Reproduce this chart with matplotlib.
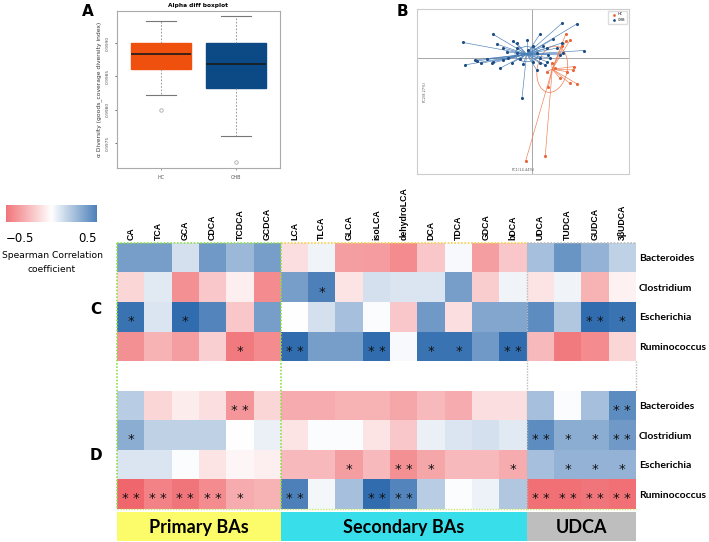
import numpy as np
import matplotlib
matplotlib.use("Agg")
import matplotlib.pyplot as plt
from matplotlib.colors import LinearSegmentedColormap, Normalize
from matplotlib.patches import Ellipse, Rectangle

W, H = 709, 542

# ----- data -----
bile_acids = ["CA", "TCA", "GCA", "CDCA", "TCDCA", "GCDCA",
              "LCA", "TLCA", "GLCA", "isoLCA", "dehydroLCA", "DCA", "TDCA", "GDCA", "bDCA",
              "UDCA", "TUDCA", "GUDCA", "3βUDCA"]
genera = ["Bacteroides", "Clostridium", "Escherichia", "Ruminococcus"]
groups = ["Primary BAs", "Secondary BAs", "UDCA"]
group_sizes = [6, 9, 4]

# panel C correlations
rho_c = [
    [0.38, 0.38, 0.12, 0.40, 0.28, 0.38, -0.12, 0.04, -0.35, -0.36, -0.42, -0.20, 0.02, -0.35, -0.20, 0.25, 0.42, 0.30, 0.18],
    [-0.15, 0.08, -0.40, -0.20, -0.06, -0.42, 0.38, 0.50, -0.10, 0.12, 0.10, 0.10, 0.38, -0.18, 0.04, -0.10, 0.04, -0.28, -0.05],
    [0.55, 0.10, 0.58, 0.48, -0.20, 0.38, 0.00, 0.12, 0.25, 0.01, -0.20, 0.40, -0.12, 0.35, 0.35, 0.45, 0.22, 0.58, 0.55],
    [-0.40, -0.28, -0.35, -0.17, -0.48, -0.42, 0.58, 0.38, 0.38, 0.58, 0.02, 0.55, 0.55, 0.40, 0.58, -0.25, -0.48, -0.42, -0.15],
]
sig_c = [
    [0, 0, 0, 0, 0, 0, 0, 0, 0, 0, 0, 0, 0, 0, 0, 0, 0, 0, 0],
    [0, 0, 0, 0, 0, 0, 0, 1, 0, 0, 0, 0, 0, 0, 0, 0, 0, 0, 0],
    [1, 0, 1, 0, 0, 0, 0, 0, 0, 0, 0, 0, 0, 0, 0, 0, 0, 2, 1],
    [0, 0, 0, 0, 1, 0, 2, 0, 0, 2, 0, 1, 1, 0, 2, 0, 0, 0, 0],
]
# panel D correlations
rho_d = [
    [0.20, -0.15, -0.07, -0.12, -0.38, -0.15, -0.30, -0.30, -0.28, -0.28, -0.32, -0.25, -0.30, -0.12, -0.12, 0.25, 0.01, 0.25, 0.45],
    [0.32, 0.18, 0.18, 0.18, 0.00, 0.06, -0.10, 0.01, 0.01, -0.10, -0.20, 0.06, 0.10, 0.12, 0.08, 0.45, 0.32, 0.32, 0.40],
    [0.10, 0.10, 0.01, -0.10, -0.03, -0.06, -0.25, -0.25, -0.35, -0.25, -0.40, -0.32, -0.25, -0.25, -0.30, 0.25, 0.30, 0.30, 0.30],
    [-0.55, -0.45, -0.50, -0.42, -0.30, -0.28, 0.50, 0.03, 0.25, 0.58, 0.48, 0.20, 0.01, 0.05, 0.22, -0.52, -0.52, -0.50, -0.52],
]
sig_d = [
    [0, 0, 0, 0, 2, 0, 0, 0, 0, 0, 0, 0, 0, 0, 0, 0, 0, 0, 2],
    [1, 0, 0, 0, 0, 0, 0, 0, 0, 0, 0, 0, 0, 0, 0, 2, 1, 1, 2],
    [0, 0, 0, 0, 0, 0, 0, 0, 1, 0, 2, 1, 0, 0, 1, 0, 1, 1, 1],
    [2, 2, 2, 2, 1, 0, 2, 0, 0, 2, 2, 0, 0, 0, 0, 2, 2, 2, 2],
]

# panel A boxplot stats
box_groups = ["HC", "CHB"]
box_whislo = [0.99822, 0.99761]
box_q1 = [0.99861, 0.99833]
box_med = [0.99884, 0.99868]
box_q3 = [0.99900, 0.99900]
box_whishi = [0.99933, 0.99940]
box_fliers = [[0.99800], [0.99722]]

# panel B ordination
chb_x = [0.90, 1.35, 0.23, -1.19, -2.09, -0.57, -1.07, -0.47, 0.63, 0.88, 0.45, 1.55, -0.77, 0.03, 0.33,
         0.73, 0.13, -1.37, -2.02, -1.67, -0.97, -0.62, -0.27, -0.31, 0.13, 0.43, 0.53, -1.17, -0.72, -0.47,
         0.23, 0.48, -0.87, 0.93, -0.47, -0.17, -1.72, -1.22, 0.03, -0.12, 0.23, 0.38, -0.37, -0.87, -1.54, 0.83]
chb_y = [1.05, 1.03, 0.72, 0.72, 0.47, 0.50, 0.42, 0.45, 0.57, 0.45, 0.30, 0.23, 0.19, 0.35, 0.35,
         0.30, 0.15, -0.03, -0.20, -0.08, -0.30, -0.15, -0.18, -1.18, -0.35, -0.10, 0.00, -0.10, 0.00, 0.15,
         0.00, 0.10, 0.30, 0.15, 0.30, 0.55, -0.05, -0.15, -0.10, 0.25, -0.15, -0.20, -0.03, -0.05, -0.15, 0.10]
hc_x = [1.01, 1.13, 1.00, 0.88, 1.25, 1.23, 1.13, 1.35, 0.83, 0.48, -0.20, 0.39, 0.68, 0.43, 1.03, 0.58]
hc_y = [0.73, 0.53, 0.50, 0.35, -0.25, -0.35, -0.75, -0.77, -0.60, -0.87, -3.07, -2.92, -0.30, -0.40, -0.40, -0.15]
chb_center = (-0.17, 0.12)
hc_center = (0.60, -0.33)


def px(x0, y0, x1, y1):
    return [x0 / W, 1 - y1 / H, (x1 - x0) / W, (y1 - y0) / H]


fig = plt.figure(figsize=(W / 100, H / 100), dpi=100)

# ----- A: boxplot -----
axA = fig.add_axes(px(117, 11, 280, 168))
stats = []
for i in range(2):
    stats.append(dict(label=box_groups[i], whislo=box_whislo[i], q1=box_q1[i], med=box_med[i],
                      q3=box_q3[i], whishi=box_whishi[i], fliers=box_fliers[i]))
bp = axA.bxp(stats, positions=[1, 2], widths=0.8, patch_artist=True,
             whiskerprops=dict(linestyle=(0, (2, 2)), color="#888888", linewidth=0.6),
             capprops=dict(color="#777777", linewidth=0.8),
             medianprops=dict(color="#1a1a1a", linewidth=1.2),
             flierprops=dict(marker="o", markersize=2.5, markerfacecolor="none",
                             markeredgecolor="#999999", markeredgewidth=0.5))
for patch, c in zip(bp["boxes"], ["#F0500E", "#0B4A85"]):
    patch.set_facecolor(c)
    patch.set_edgecolor(c)
axA.set_xlim(0.413, 2.587)
axA.set_ylim(0.99713, 0.99948)
axA.set_yticks([0.9975, 0.9980, 0.9985, 0.9990])
axA.set_yticklabels(["0.9975", "0.9980", "0.9985", "0.9990"], rotation=90, va="center", fontsize=3.2, color="#555555")
axA.tick_params(axis="x", labelsize=3.5, length=1.5, width=0.4, colors="#555555")
axA.tick_params(axis="y", length=1.5, width=0.4)
for s in axA.spines.values():
    s.set_color("#aaaaaa")
    s.set_linewidth(0.8)
axA.set_ylabel("α Diversity (goods_coverage diversity index)", fontsize=4.3, color="#333333", labelpad=3)
axA.set_title("Alpha diff boxplot", fontsize=4.2, fontweight="bold", pad=3)

# ----- B: PCoA -----
axB = fig.add_axes(px(417, 9, 629, 174))
axB.axhline(0, color="#999999", linewidth=0.6, zorder=0)
axB.axvline(0, color="#999999", linewidth=0.6, zorder=0)
for x, y in zip(chb_x, chb_y):
    axB.plot([chb_center[0], x], [chb_center[1], y], color="#4A7FB8", linewidth=0.45, zorder=2)
for x, y in zip(hc_x, hc_y):
    axB.plot([hc_center[0], x], [hc_center[1], y], color="#F07A50", linewidth=0.45, zorder=2)
axB.scatter(chb_x, chb_y, s=1.5, color="#1F4E85", zorder=3, label="CHB")
axB.scatter(hc_x, hc_y, s=1.5, color="#E8663A", zorder=3, label="HC")
axB.add_patch(Ellipse(hc_center, 0.9, 1.4, angle=-12, fill=False, edgecolor="#F07A50", linewidth=0.5))
axB.add_patch(Ellipse(chb_center, 0.7, 0.45, angle=0, fill=False, edgecolor="#4A7FB8", linewidth=0.5))
axB.set_xlim(-3.47, 2.91)
axB.set_ylim(-3.46, 1.47)
axB.set_xticks([])
axB.set_yticks([])
for s in axB.spines.values():
    s.set_color("#cccccc")
    s.set_linewidth(0.8)
axB.text(0.5, 0.015, "PC1(14.44%)", transform=axB.transAxes, fontsize=2.5, ha="center", va="bottom", color="#555555")
axB.text(0.035, 0.5, "PC2(8.27%)", transform=axB.transAxes, fontsize=2.5, ha="center", va="center",
         rotation=90, color="#555555")
h, l = axB.get_legend_handles_labels()
axB.legend(h[::-1], l[::-1], loc="upper right", fontsize=2.5, markerscale=0.8, handletextpad=0.3,
           borderpad=0.5, frameon=True, fancybox=False, edgecolor="#dddddd", framealpha=1)

# ----- heatmap C / D -----
cmap = LinearSegmentedColormap.from_list("rwb", ["#EE5A60", "#FFFFFF", "#2A68AC"])
norm = Normalize(vmin=-0.6, vmax=0.6)
n_col = len(bile_acids)
data = np.full((9, n_col), np.nan)
data[0:4] = np.array(rho_c)
data[5:9] = np.array(rho_d)
stars = np.zeros((9, n_col), dtype=int)
stars[0:4] = np.array(sig_c)
stars[5:9] = np.array(sig_d)

axH = fig.add_axes(px(117, 243, 636, 509))
axH.imshow(np.ma.masked_invalid(data), cmap=cmap, norm=norm, aspect="auto", interpolation="nearest")
for i in range(9):
    for j in range(n_col):
        if stars[i, j] > 0:
            axH.text(j, i + 0.16, "* *" if stars[i, j] == 2 else "*", ha="center", va="center",
                     fontsize=9.5, color="#111111")
axH.set_xlim(-0.5, n_col - 0.5)
axH.set_ylim(8.5, -0.5)
axH.xaxis.tick_top()
axH.set_xticks(range(n_col))
axH.set_xticklabels(bile_acids, rotation=90, fontsize=6.3, fontweight="bold", family="Liberation Sans")
axH.set_yticks([0, 1, 2, 3, 5, 6, 7, 8])
axH.yaxis.tick_right()
axH.set_yticklabels(genera + genera, fontsize=7.5, fontweight="bold", family="Lato")
axH.tick_params(length=0, pad=2)
for s in axH.spines.values():
    s.set_visible(False)

# dotted group borders
bounds = np.cumsum([0] + group_sizes) - 0.5
border_cols = ["#8EE04A", "#F2D24A", "#BBBBBB"]
for k in range(3):
    axH.plot([bounds[k], bounds[k + 1]], [-0.5, -0.5], linestyle=(0, (1, 1)), color=border_cols[k], linewidth=1.2, clip_on=False)
    axH.plot([bounds[k], bounds[k + 1]], [8.5, 8.5], linestyle=(0, (1, 1)), color="#C8E86A", linewidth=1.0, clip_on=False)
axH.plot([bounds[0]] * 2, [-0.5, 8.5], linestyle=(0, (1, 1)), color="#8EE04A", linewidth=1.2, clip_on=False)
axH.plot([bounds[1]] * 2, [-0.5, 8.5], linestyle=(0, (1, 1)), color="#8EE04A", linewidth=1.2, clip_on=False)
axH.plot([bounds[2]] * 2, [-0.5, 8.5], linestyle=(0, (1, 1)), color="#BBBBBB", linewidth=1.0, clip_on=False)
axH.plot([bounds[3]] * 2, [3.5, 4.5], linestyle=(0, (1, 1)), color="#BBBBBB", linewidth=1.0, clip_on=False)

# group bar
axG = fig.add_axes(px(117, 512, 636, 541))
group_cols = ["#FCFC6A", "#38DFEA", "#BEBEBE"]
for k in range(3):
    axG.add_patch(Rectangle((bounds[k], 0), group_sizes[k], 1, facecolor=group_cols[k], edgecolor="none"))
    axG.text((bounds[k] + bounds[k + 1]) / 2, 0.45, groups[k], ha="center", va="center",
             fontsize=13, fontweight="bold", family="Lato")
axG.set_xlim(-0.5, n_col - 0.5)
axG.set_ylim(0, 1)
axG.axis("off")

# colorbar
axC = fig.add_axes(px(6, 205, 96, 222))
grad = np.linspace(-0.5, 0.5, 256)[None, :]
axC.imshow(grad, cmap=cmap, norm=norm, aspect="auto", extent=(-0.5, 0.5, 0, 1))
axC.axis("off")
fig.text(6 / W, 1 - 238 / H, "\u22120.5", fontsize=8.5, ha="left", va="center")
fig.text(97 / W, 1 - 238 / H, "0.5", fontsize=8.5, ha="right", va="center")
fig.text(52 / W, 1 - 256 / H, "Spearman Correlation", fontsize=6.6, ha="center", va="center")
fig.text(52 / W, 1 - 270 / H, "coefficient", fontsize=6.6, ha="center", va="center")

# panel letters
for letter, x, y in [("A", 88, 12), ("B", 402, 12), ("C", 96, 310), ("D", 96, 456)]:
    fig.text(x / W, 1 - y / H, letter, fontsize=11, fontweight="bold", ha="center", va="center")

fig.savefig("out.png", dpi=100)
